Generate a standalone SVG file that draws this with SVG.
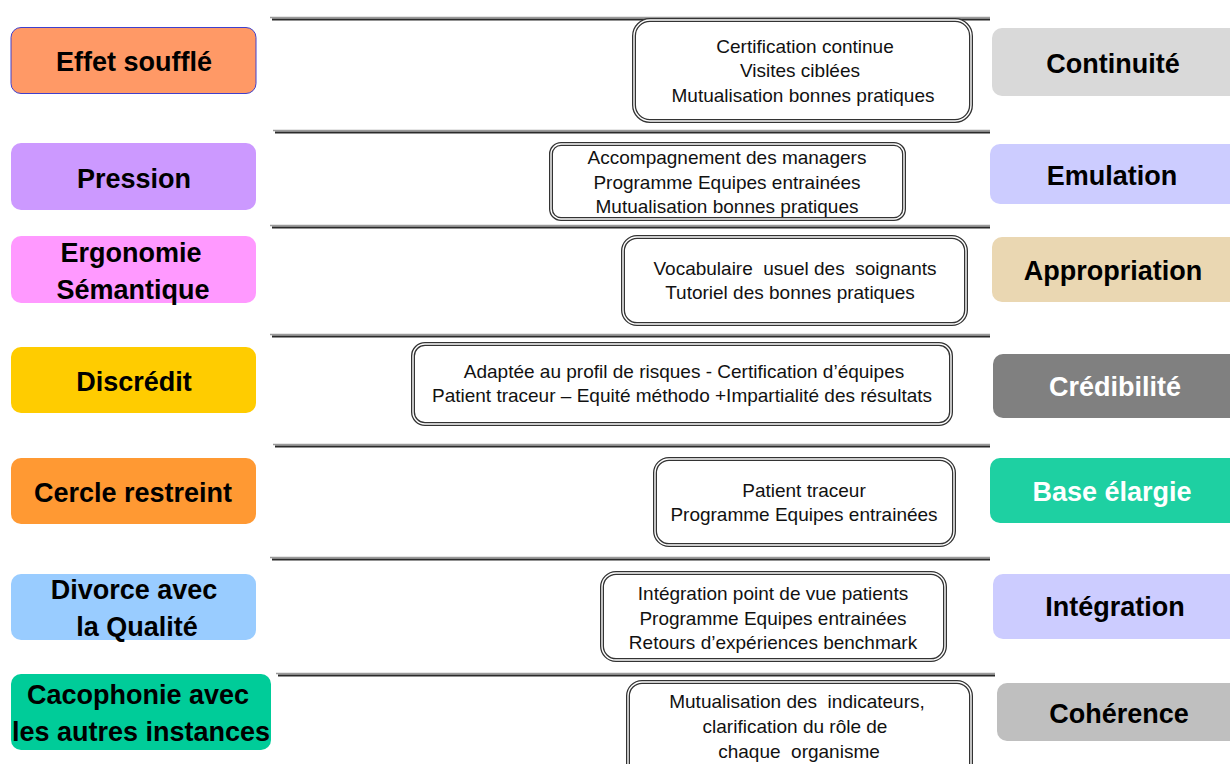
<svg xmlns="http://www.w3.org/2000/svg" width="1230" height="764" viewBox="0 0 1230 764">
  <style>
    .lbl { font-family: "Liberation Sans", Arial, sans-serif; font-weight: bold; font-size: 27px; text-anchor: middle; fill: #000; }
    .lbl.w { fill: #fff; }
    .txt { font-family: "Liberation Sans", Arial, sans-serif; font-size: 19px; text-anchor: middle; fill: #111; white-space: pre; }
    .frame-o { fill: #fff; stroke: #333; stroke-width: 4; }
    .frame-i { fill: none; stroke: #fff; stroke-width: 1.4; }
    .rule-a { stroke: #9a9a9a; stroke-width: 1.6; }
    .rule-b { stroke: #2a2a2a; stroke-width: 1.8; }
  </style>
  <rect width="1230" height="764" fill="#fff"/>

  <!-- separator rules -->
  <g id="connectors">
    <line class="rule-a" x1="270" y1="17.5" x2="990" y2="17.5"/><line class="rule-b" x1="272" y1="19.5" x2="990" y2="19.5"/>
    <line class="rule-a" x1="273" y1="130.5" x2="990" y2="130.5"/><line class="rule-b" x1="275" y1="132.5" x2="990" y2="132.5"/>
    <line class="rule-a" x1="270" y1="225.5" x2="990" y2="225.5"/><line class="rule-b" x1="272" y1="227.5" x2="990" y2="227.5"/>
    <line class="rule-a" x1="270" y1="334.5" x2="990" y2="334.5"/><line class="rule-b" x1="272" y1="336.5" x2="990" y2="336.5"/>
    <line class="rule-a" x1="273" y1="444.5" x2="990" y2="444.5"/><line class="rule-b" x1="275" y1="446.5" x2="990" y2="446.5"/>
    <line class="rule-a" x1="270" y1="557.5" x2="990" y2="557.5"/><line class="rule-b" x1="272" y1="559.5" x2="990" y2="559.5"/>
    <line class="rule-a" x1="276" y1="673.5" x2="995" y2="673.5"/><line class="rule-b" x1="278" y1="675.5" x2="995" y2="675.5"/>
  </g>

  <!-- left column: obstacles -->
  <g id="effet-souffle">
    <rect x="11" y="27.5" width="245" height="66" rx="10" fill="#FF9966" stroke="#4040CC" stroke-width="1"/>
    <text class="lbl" x="134" y="71">Effet soufflé</text>
  </g>
  <g id="pression">
    <rect x="11" y="143" width="245" height="67" rx="10" fill="#CC99FF"/>
    <text class="lbl" x="134" y="188">Pression</text>
  </g>
  <g id="ergonomie-semantique">
    <rect x="11" y="236" width="245" height="67" rx="10" fill="#FF99FF"/>
    <text class="lbl" x="131" y="262">Ergonomie</text>
    <text class="lbl" x="133" y="299">Sémantique</text>
  </g>
  <g id="discredit">
    <rect x="11" y="347" width="245" height="66" rx="10" fill="#FFCC00"/>
    <text class="lbl" x="134" y="391">Discrédit</text>
  </g>
  <g id="cercle-restreint">
    <rect x="11" y="458" width="245" height="66" rx="10" fill="#FF9933"/>
    <text class="lbl" x="133" y="502">Cercle restreint</text>
  </g>
  <g id="divorce-qualite">
    <rect x="11" y="574" width="245" height="66" rx="10" fill="#99CCFF"/>
    <text class="lbl" x="134" y="599">Divorce avec</text>
    <text class="lbl" x="137" y="636">la Qualité</text>
  </g>
  <g id="cacophonie">
    <rect x="11" y="674" width="260" height="76" rx="10" fill="#00CC99"/>
    <text class="lbl" x="138" y="704">Cacophonie avec</text>
    <text class="lbl" x="141" y="741">les autres instances</text>
  </g>

  <!-- middle column: actions -->
  <g id="actions-continuite">
    <rect class="frame-o" x="634" y="20" width="337" height="101" rx="16"/>
    <rect class="frame-i" x="634" y="20" width="337" height="101" rx="16"/>
    <text class="txt" x="805" y="53">Certification continue</text>
    <text class="txt" x="800" y="77">Visites ciblées</text>
    <text class="txt" x="803" y="102">Mutualisation bonnes pratiques</text>
  </g>
  <g id="actions-emulation">
    <rect class="frame-o" x="551" y="144" width="353" height="75" rx="10"/>
    <rect class="frame-i" x="551" y="144" width="353" height="75" rx="10"/>
    <text class="txt" x="727" y="164">Accompagnement des managers</text>
    <text class="txt" x="727" y="189">Programme Equipes entrainées</text>
    <text class="txt" x="727" y="213">Mutualisation bonnes pratiques</text>
  </g>
  <g id="actions-appropriation">
    <rect class="frame-o" x="623" y="237" width="343" height="87" rx="14"/>
    <rect class="frame-i" x="623" y="237" width="343" height="87" rx="14"/>
    <text class="txt" x="795" y="275" xml:space="preserve">Vocabulaire  usuel des  soignants</text>
    <text class="txt" x="790" y="299">Tutoriel des bonnes pratiques</text>
  </g>
  <g id="actions-credibilite">
    <rect class="frame-o" x="413" y="344" width="538" height="80" rx="12"/>
    <rect class="frame-i" x="413" y="344" width="538" height="80" rx="12"/>
    <text class="txt" x="684" y="378">Adaptée au profil de risques - Certification d’équipes</text>
    <text class="txt" x="682" y="402">Patient traceur – Equité méthodo +Impartialité des résultats</text>
  </g>
  <g id="actions-base-elargie">
    <rect class="frame-o" x="655" y="459" width="299" height="86" rx="14"/>
    <rect class="frame-i" x="655" y="459" width="299" height="86" rx="14"/>
    <text class="txt" x="804" y="497">Patient traceur</text>
    <text class="txt" x="804" y="521">Programme Equipes entrainées</text>
  </g>
  <g id="actions-integration">
    <rect class="frame-o" x="602" y="573" width="343" height="87" rx="14"/>
    <rect class="frame-i" x="602" y="573" width="343" height="87" rx="14"/>
    <text class="txt" x="773" y="600">Intégration point de vue patients</text>
    <text class="txt" x="773" y="625">Programme Equipes entrainées</text>
    <text class="txt" x="773" y="649">Retours d’expériences benchmark</text>
  </g>
  <g id="actions-coherence">
    <rect class="frame-o" x="628" y="682" width="343" height="100" rx="14"/>
    <rect class="frame-i" x="628" y="682" width="343" height="100" rx="14"/>
    <text class="txt" x="797" y="708" xml:space="preserve">Mutualisation des  indicateurs,</text>
    <text class="txt" x="795" y="733">clarification du rôle de</text>
    <text class="txt" x="799" y="758" xml:space="preserve">chaque  organisme</text>
  </g>

  <!-- right column: outcomes -->
  <g id="continuite">
    <rect x="992" y="28" width="250" height="68" rx="10" fill="#D9D9D9"/>
    <text class="lbl" x="1113" y="73">Continuité</text>
  </g>
  <g id="emulation">
    <rect x="990" y="144" width="252" height="60" rx="10" fill="#CCCCFF"/>
    <text class="lbl" x="1112" y="185">Emulation</text>
  </g>
  <g id="appropriation">
    <rect x="992" y="237" width="250" height="65" rx="10" fill="#EAD7B2"/>
    <text class="lbl" x="1113" y="280">Appropriation</text>
  </g>
  <g id="credibilite">
    <rect x="993" y="354" width="249" height="64" rx="10" fill="#808080"/>
    <text class="lbl w" x="1115" y="396">Crédibilité</text>
  </g>
  <g id="base-elargie">
    <rect x="990" y="458" width="252" height="65" rx="10" fill="#1ED0A2"/>
    <text class="lbl w" x="1112" y="501">Base élargie</text>
  </g>
  <g id="integration">
    <rect x="993" y="574" width="249" height="65" rx="10" fill="#CCCCFF"/>
    <text class="lbl" x="1115" y="616">Intégration</text>
  </g>
  <g id="coherence">
    <rect x="997" y="683" width="245" height="58" rx="10" fill="#BFBFBF"/>
    <text class="lbl" x="1119" y="723">Cohérence</text>
  </g>
</svg>
